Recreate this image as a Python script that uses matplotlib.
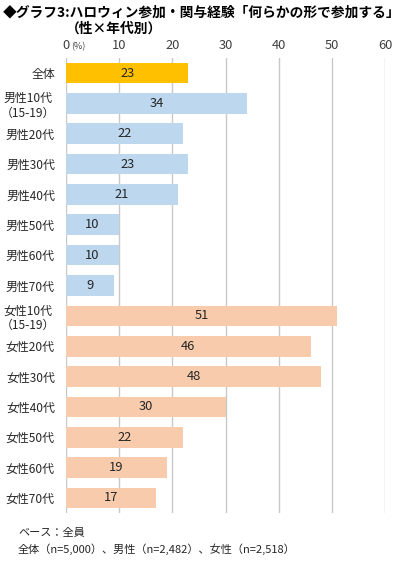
import matplotlib
matplotlib.use('Agg')
import matplotlib.pyplot as plt

plt.rcParams['font.family'] = ['Noto Sans CJK JP', 'DejaVu Sans']

# data
categories = ['全体', '男性10代\n（15-19）', '男性20代', '男性30代', '男性40代', '男性50代',
              '男性60代', '男性70代', '女性10代\n（15-19）', '女性20代', '女性30代',
              '女性40代', '女性50代', '女性60代', '女性70代']
values = [23, 34, 22, 23, 21, 10, 10, 9, 51, 46, 48, 30, 22, 19, 17]
groups = ['all'] + ['male'] * 7 + ['female'] * 7
group_colors = {'all': '#FFC000', 'male': '#BDD7EE', 'female': '#F8CBAD'}
xticks = [0, 10, 20, 30, 40, 50, 60]

fig = plt.figure(figsize=(4.0, 5.62), dpi=100)
ax = fig.add_axes([0.165, 0.087, 0.7975, 0.81])

ypos = list(range(len(categories)))
colors = [group_colors[g] for g in groups]
bars = ax.barh(ypos, values, height=0.68, color=colors, zorder=2)

for b, v in zip(bars, values):
    ax.text(b.get_width() / 2, b.get_y() + b.get_height() / 2, str(v),
            ha='center', va='center', fontsize=9.3, color='#262626', zorder=3)

ax.set_xlim(0, 60)
ax.set_ylim(len(categories) - 0.5, -0.5)
ax.set_xticks(xticks)
ax.set_xticklabels([str(t) for t in xticks], fontsize=9.3, color='#404040')
ax.xaxis.tick_top()
ax.tick_params(axis='x', length=0, pad=4)
ax.set_yticks(ypos)
ax.set_yticklabels(categories, fontsize=8.6, color='#262626', multialignment='center',
                   linespacing=1.15)
ax.tick_params(axis='y', length=0, pad=8)
ax.grid(axis='x', color='#C8C8C8', linewidth=1.0, zorder=0)
for s in ax.spines.values():
    s.set_visible(False)

# little (%) next to the 0 tick
ax.annotate('(%)', xy=(0, 1), xycoords='axes fraction', xytext=(4, 5),
            textcoords='offset points', fontsize=6.5, color='#404040', ha='left', va='bottom')

fig.text(0.008, 0.99, '◆グラフ3:ハロウィン参加・関与経験「何らかの形で参加する」',
         fontsize=9.9, fontweight='bold', ha='left', va='top')
fig.text(0.165, 0.961, '（性×年代別）', fontsize=9.9, fontweight='bold', ha='left', va='top')

fig.text(0.045, 0.052, 'ベース：全員', fontsize=8, ha='left', va='center', color='#262626')
fig.text(0.045, 0.022, '全体（n=5,000）、男性（n=2,482）、女性（n=2,518）', fontsize=8,
         ha='left', va='center', color='#262626')

fig.savefig('out.png', dpi=100)
